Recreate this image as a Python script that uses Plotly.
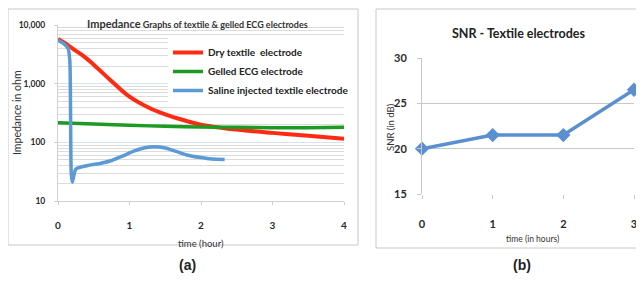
import plotly.graph_objects as go

# ---- Panel (a): impedance vs time ----
dry_t = [0, 0.1, 0.2, 0.35, 0.5, 0.75, 1.0, 1.25, 1.5, 1.75, 2.0, 2.5, 3.0, 3.5, 4.0]
dry_z = [5800, 4900, 4000, 3000, 2100, 1100, 600, 400, 300, 240, 200, 165, 145, 130, 115]

gel_t = [0, 0.5, 1.0, 1.5, 2.0, 2.5, 3.0, 3.5, 4.0]
gel_z = [215, 205, 195, 188, 183, 180, 178, 178, 180]

sal_t = [0, 0.08, 0.14, 0.165, 0.175, 0.185, 0.2, 0.25, 0.4, 0.6, 0.75, 0.9, 1.05, 1.2, 1.35, 1.5, 1.65, 1.8, 2.0, 2.15, 2.33]
sal_z = [5500, 4800, 4000, 2500, 400, 30, 21, 35, 40, 44, 49, 58, 70, 80, 84, 80, 70, 61, 55, 52, 51]

imp_tickvals = [10, 100, 1000, 10000]
imp_ticktext = ["10", "100", "1,000", "10,000"]
time_ticks = [0, 1, 2, 3, 4]

# ---- Panel (b): SNR ----
snr_t = [0, 1, 2, 3]
snr_db = [20, 21.5, 21.5, 26.5]
snr_ticks = [15, 20, 25, 30]

W, H = 628, 267
OFF = 8  # page body margin offset
def px(x):
    return (x - OFF) / W
def py(y):
    return 1 - (y - OFF) / H

FONT = "Lato, Open Sans, sans-serif"
TXT = "#333333"
TICK = dict(family=FONT, color="#2a2a2a", weight="bold")

fig = go.Figure()
fig.add_trace(go.Scatter(x=dry_t, y=dry_z, mode="lines", name="Dry textile  electrode",
                         line=dict(color="#ff2a12", width=4, shape="spline"), xaxis="x", yaxis="y"))
fig.add_trace(go.Scatter(x=gel_t, y=gel_z, mode="lines", name="Gelled ECG electrode",
                         line=dict(color="#1c9a22", width=3.5, shape="spline"), xaxis="x", yaxis="y"))
fig.add_trace(go.Scatter(x=sal_t, y=sal_z, mode="lines", name="Saline injected textile electrode",
                         line=dict(color="#5b9bd5", width=3.5, shape="spline", smoothing=0.6), xaxis="x", yaxis="y"))
fig.add_trace(go.Scatter(x=snr_t, y=snr_db, mode="lines+markers", showlegend=False,
                         line=dict(color="#5a8fd0", width=3.5),
                         marker=dict(symbol="diamond", size=11, color="#5a8fd0"),
                         cliponaxis=False, xaxis="x2", yaxis="y2"))

fig.update_layout(
    width=W, height=H, margin=dict(l=0, r=0, t=0, b=0, autoexpand=False),
    paper_bgcolor="white", plot_bgcolor="white",
    font=dict(family=FONT, color=TXT, size=9),
    xaxis=dict(domain=[px(58), px(344)], range=[0, 4], tickvals=time_ticks, automargin=False,
               showgrid=False, showline=True, linecolor="#d0d0d0", ticks="outside",
               ticklen=3, tickcolor="#d0d0d0", zeroline=False, ticklabelstandoff=12,
               tickfont=dict(size=10, **TICK)),
    yaxis=dict(domain=[py(201), py(25)], type="log", range=[1, 4], automargin=False,
               tickvals=imp_tickvals, ticktext=imp_ticktext,
               showgrid=True, gridcolor="#d6e2ee", gridwidth=1,
               minor=dict(showgrid=True, gridcolor="#dcdcdc", dtick="D1", ticks=""),
               showline=True, linecolor="#d0d0d0", ticks="outside", ticklen=3, tickcolor="#d0d0d0",
               ticklabelstandoff=7,
               tickfont=dict(size=8.5, **TICK)),
    xaxis2=dict(domain=[px(422), px(634)], range=[0, 3], tickvals=snr_t, automargin=False,
                showgrid=False, showline=False, ticks="outside", ticklen=4, tickcolor="#c8c8c8",
                zeroline=False, anchor="y2", ticklabelstandoff=16, ticklabeloverflow="allow",
                tickfont=dict(size=11, **TICK)),
    yaxis2=dict(domain=[py(194), py(58)], range=[15, 30], tickvals=snr_ticks, automargin=False,
                showgrid=True, gridcolor="#c8c8c8", showline=True, linecolor="#c8c8c8",
                ticks="outside", ticklen=4, tickcolor="#c8c8c8", zeroline=False, anchor="x2",
                ticklabelstandoff=8,
                tickfont=dict(size=11, **TICK)),
    legend=dict(x=px(168), y=py(38), xanchor="left", yanchor="top",
                bgcolor="white", font=dict(size=10, color="#222", weight="bold"),
                tracegroupgap=0),
    shapes=[
        dict(type="rect", xref="paper", yref="paper", x0=px(8), x1=px(358), y0=py(245), y1=py(9),
             line=dict(color="#c8c8c8", width=1)),
        dict(type="rect", xref="paper", yref="paper", x0=px(376), x1=px(660), y0=py(248), y1=py(9),
             line=dict(color="#c8c8c8", width=1)),
    ],
    annotations=[
        dict(text="<span style='font-size:11px'>Impedance</span> Graphs of textile &amp; gelled ECG electrodes",
             xref="paper", yref="paper", x=px(197), y=py(23), xanchor="center", yanchor="middle",
             showarrow=False, font=dict(size=9, color="#333", weight="bold")),
        dict(text="SNR - Textile electrodes", xref="paper", yref="paper", x=px(518), y=py(33),
             xanchor="center", yanchor="middle",
             showarrow=False, font=dict(size=12.5, color="#222", weight="bold")),
        # axis titles
        dict(text="time (hour)", xref="paper", yref="paper", x=px(201), y=py(243),
             xanchor="center", yanchor="middle", showarrow=False, font=dict(size=9.5, color="#333")),
        dict(text="Impedance in ohm", xref="paper", yref="paper", x=px(17), y=py(113), textangle=-90,
             xanchor="center", yanchor="middle", showarrow=False, font=dict(size=10.5, color="#333")),
        dict(text="time (in hours)", xref="paper", yref="paper", x=px(532), y=py(239),
             xanchor="center", yanchor="middle", showarrow=False, font=dict(size=8.5, color="#333")),
        dict(text="SNR (in dB)", xref="paper", yref="paper", x=px(390), y=py(127), textangle=-90,
             xanchor="center", yanchor="middle", showarrow=False, font=dict(size=9.5, color="#333")),
        dict(text="<b>(a)</b>", xref="paper", yref="paper", x=px(187), y=py(265), showarrow=False,
             xanchor="center", yanchor="middle",
             font=dict(size=14, color="#222", family="Liberation Sans")),
        dict(text="<b>(b)</b>", xref="paper", yref="paper", x=px(522), y=py(265), showarrow=False,
             xanchor="center", yanchor="middle",
             font=dict(size=14, color="#222", family="Liberation Sans")),
    ],
)

fig.write_html("out.html")
